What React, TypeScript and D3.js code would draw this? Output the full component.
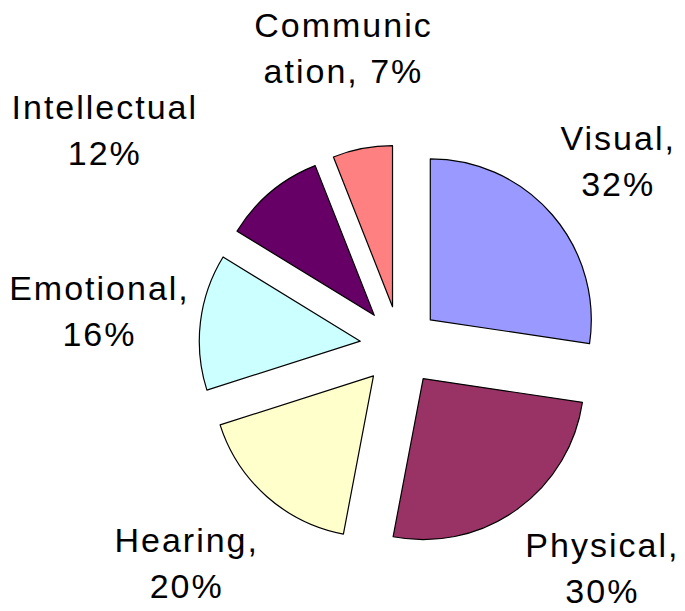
import React, { useEffect, useRef } from 'react';
import * as d3 from 'd3';

const categories = ['Visual', 'Physical', 'Hearing', 'Emotional', 'Intellectual', 'Communication'];
const values = [32, 30, 20, 16, 12, 7];
const labelLines = [
  ['Visual,', '32%'],
  ['Physical,', '30%'],
  ['Hearing,', '20%'],
  ['Emotional,', '16%'],
  ['Intellectual', '12%'],
  ['Communic', 'ation, 7%'],
];
const colors = ['#9999FF', '#993366', '#FFFFCC', '#CCFFFF', '#660066', '#FF8080'];

// label nudges from the outer edge of each exploded slice (layout only)
const labelNudge: [number, number][] = [
  [66, -65],
  [86, 47],
  [-80, 56],
  [-101, -22],
  [-166, -73],
  [-19, -112],
];

function Chart() {
  const canvas = useRef<SVGSVGElement>(null);

  useEffect(() => {
    const width = 685;
    const height = 611;
    const cx = 400;
    const cy = 346;
    const radius = 161;
    const explode = 40;

    const svg = d3.select(canvas.current).attr('width', width).attr('height', height);
    svg.selectAll('*').remove();

    const data = categories.map((name, i) => ({ name, value: values[i], i }));
    const pie = d3.pie<any>().sort(null).value(d => d.value);
    const arcs = pie(data);
    const arc = d3.arc<any>().innerRadius(0).outerRadius(radius);

    const g = svg.append('g').attr('transform', `translate(${cx},${cy})`);

    const mid = (d: any) => (d.startAngle + d.endAngle) / 2;

    g.selectAll('path')
      .data(arcs)
      .enter()
      .append('path')
      .attr('d', arc)
      .attr('transform', d => {
        const a = mid(d);
        return `translate(${explode * Math.sin(a)},${-explode * Math.cos(a)})`;
      })
      .attr('fill', d => colors[d.data.i])
      .attr('stroke', '#000')
      .attr('stroke-width', 1.2)
      .attr('stroke-linejoin', 'round');

    const labels = g.selectAll('text.lbl')
      .data(arcs)
      .enter()
      .append('text')
      .attr('class', 'lbl')
      .attr('text-anchor', 'middle')
      .attr('font-family', '"Liberation Sans", Arial, sans-serif')
      .attr('font-size', 34)
      .attr('letter-spacing', 2)
      .attr('fill', '#000')
      .attr('transform', d => {
        const a = mid(d);
        const r = radius + explode;
        const n = labelNudge[d.data.i];
        return `translate(${r * Math.sin(a) + n[0]},${-r * Math.cos(a) + n[1]})`;
      });

    labels.selectAll('tspan')
      .data(d => labelLines[d.data.i])
      .enter()
      .append('tspan')
      .attr('x', 0)
      .attr('y', (d, j) => j * 46)
      .text(d => d);
  });

  return (
    <div style={{ position: 'absolute', left: 0, top: 0 }}>
      <svg ref={canvas}></svg>
    </div>
  );
}

export default function App() {
  return <Chart />;
}
